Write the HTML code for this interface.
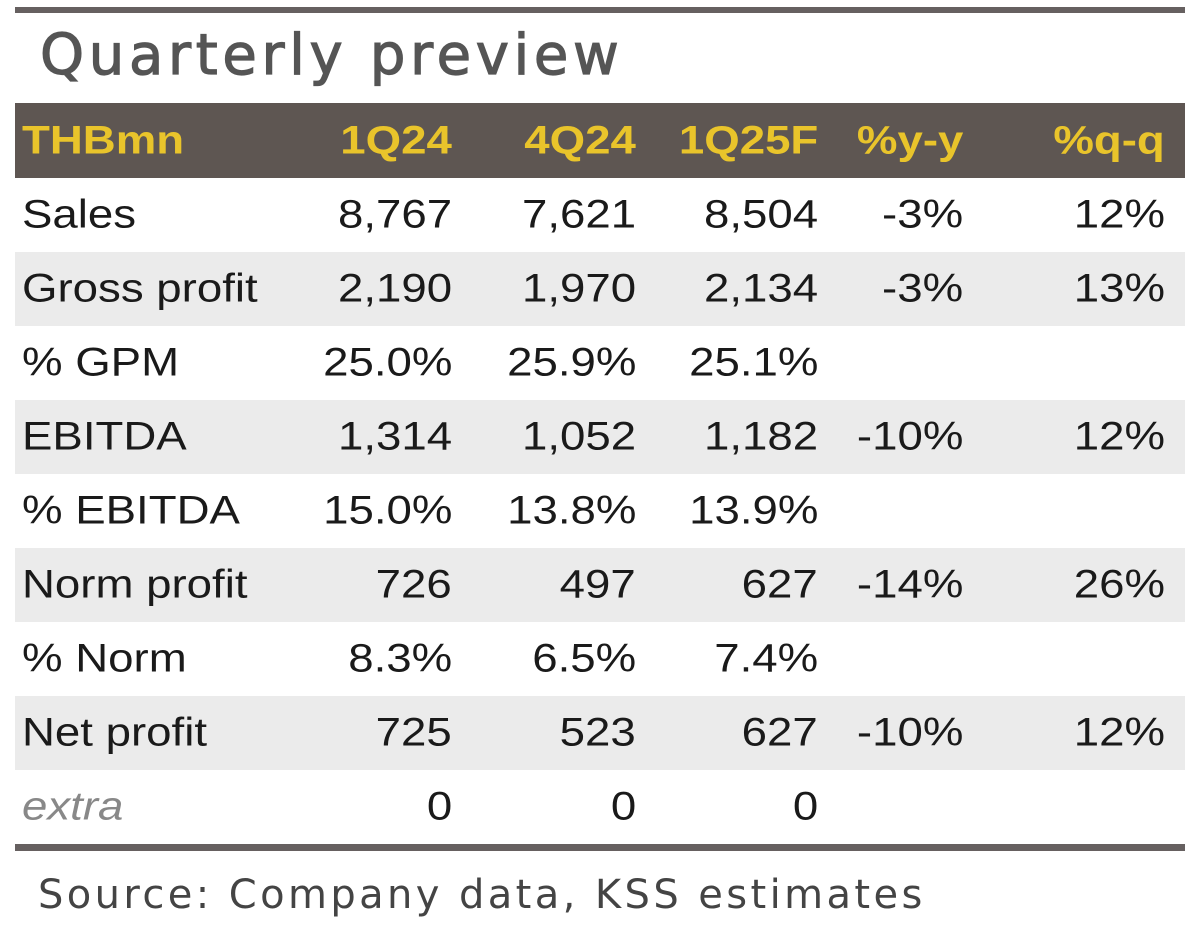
<!DOCTYPE html>
<html><head><meta charset="utf-8"><style>
body{margin:0;width:1200px;height:950px;background:#fff;position:relative;overflow:hidden;font-family:"Liberation Sans",sans-serif}
.line{position:absolute;left:15px;width:1170px;background:#666060}
.title{position:absolute;left:40px;top:23px;font-family:"DejaVu Sans",sans-serif;font-size:56px;color:#555;letter-spacing:4.7px;-webkit-text-stroke:1.2px #555}
.row{position:absolute;left:15px;width:1170px;height:74px}
.row span{position:absolute;top:50%;font-size:40px;color:#1a1a1a;white-space:nowrap}
.row span:not(.l){transform:translateY(-50%) scaleX(1.14);transform-origin:right center}
.row span.l{transform:translateY(-50%) scaleX(1.14);transform-origin:left center}
.g{background:#ebebeb}
.hd{background:#5e5652}
.hd span{color:#e9c42b;font-weight:bold}
.l{left:7px}
.c1{right:733px}.c2{right:549px}.c3{right:367px}.c4{right:222px}.c5{right:20px}
.src{position:absolute;left:38px;top:872px;font-family:"DejaVu Sans",sans-serif;font-size:40px;color:#444;letter-spacing:3.4px}
</style></head><body>
<div class="line" style="top:7px;height:6px"></div>
<div class="title">Quarterly preview</div>
<div class="row hd" style="top:103px;height:75px"><span class="l">THBmn</span><span class="c1">1Q24</span><span class="c2">4Q24</span><span class="c3">1Q25F</span><span class="c4">%y-y</span><span class="c5">%q-q</span></div>
<div class="row" style="top:178px"><span class="l">Sales</span><span class="c1">8,767</span><span class="c2">7,621</span><span class="c3">8,504</span><span class="c4">-3%</span><span class="c5">12%</span></div>
<div class="row g" style="top:252px"><span class="l">Gross profit</span><span class="c1">2,190</span><span class="c2">1,970</span><span class="c3">2,134</span><span class="c4">-3%</span><span class="c5">13%</span></div>
<div class="row" style="top:326px"><span class="l">% GPM</span><span class="c1">25.0%</span><span class="c2">25.9%</span><span class="c3">25.1%</span></div>
<div class="row g" style="top:400px"><span class="l">EBITDA</span><span class="c1">1,314</span><span class="c2">1,052</span><span class="c3">1,182</span><span class="c4">-10%</span><span class="c5">12%</span></div>
<div class="row" style="top:474px"><span class="l">% EBITDA</span><span class="c1">15.0%</span><span class="c2">13.8%</span><span class="c3">13.9%</span></div>
<div class="row g" style="top:548px"><span class="l">Norm profit</span><span class="c1">726</span><span class="c2">497</span><span class="c3">627</span><span class="c4">-14%</span><span class="c5">26%</span></div>
<div class="row" style="top:622px"><span class="l">% Norm</span><span class="c1">8.3%</span><span class="c2">6.5%</span><span class="c3">7.4%</span></div>
<div class="row g" style="top:696px"><span class="l">Net profit</span><span class="c1">725</span><span class="c2">523</span><span class="c3">627</span><span class="c4">-10%</span><span class="c5">12%</span></div>
<div class="row" style="top:770px"><span class="l" style="font-style:italic;color:#888">extra</span><span class="c1">0</span><span class="c2">0</span><span class="c3">0</span></div>
<div class="line" style="top:844px;height:7px"></div>
<div class="src">Source: Company data, KSS estimates</div>
</body></html>
